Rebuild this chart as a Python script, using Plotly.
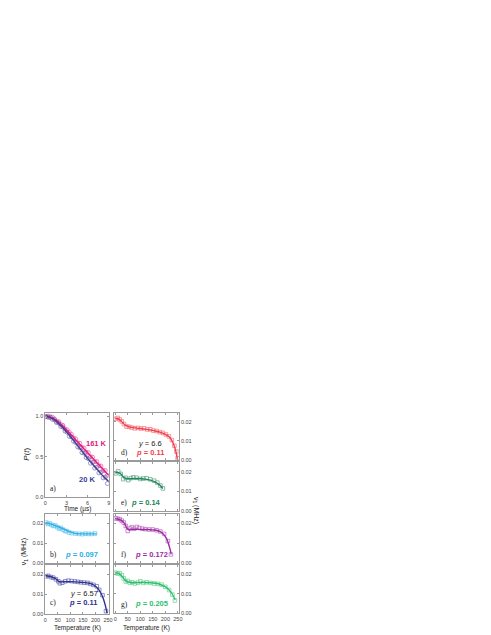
import plotly.graph_objects as go

W, H = 491, 635

# ---------------- data ----------------
# panel a: P(t)
t_fit = [0, 0.5, 1, 1.5, 2, 2.5, 3, 3.5, 4, 4.5, 5, 5.5, 6, 6.5, 7, 7.5, 8, 8.5, 9]
p161_fit = [1.0, 0.993, 0.975, 0.95, 0.915, 0.875, 0.83, 0.785, 0.738, 0.69, 0.643,
            0.596, 0.55, 0.503, 0.456, 0.41, 0.363, 0.316, 0.27]
p20_fit = [1.0, 0.99, 0.97, 0.94, 0.9, 0.855, 0.805, 0.755, 0.70, 0.645, 0.59,
           0.535, 0.48, 0.43, 0.38, 0.33, 0.28, 0.235, 0.195]
t_pts = [0.1, 0.4, 0.7, 1.0, 1.3, 1.6, 1.9, 2.2, 2.5, 2.8, 3.1, 3.4, 3.7, 4.0, 4.3,
         4.6, 4.9, 5.2, 5.5, 5.8, 6.1, 6.4, 6.7, 7.0, 7.3, 7.6, 7.9, 8.2, 8.5, 8.8]
p161_pts = [0.99, 1.0, 0.98, 0.985, 0.965, 0.935, 0.93, 0.895, 0.885, 0.84, 0.83, 0.80,
            0.775, 0.73, 0.72, 0.67, 0.665, 0.615, 0.605, 0.555, 0.55, 0.50, 0.495,
            0.44, 0.44, 0.39, 0.385, 0.33, 0.33, 0.27]
p20_pts = [0.995, 0.985, 0.99, 0.96, 0.955, 0.92, 0.915, 0.87, 0.865, 0.815, 0.80, 0.75,
           0.745, 0.69, 0.675, 0.62, 0.61, 0.55, 0.545, 0.49, 0.475, 0.42, 0.43, 0.36,
           0.37, 0.30, 0.31, 0.24, 0.25, 0.17]

# panel b
b_T_fit = [0, 20, 40, 60, 80, 100, 120, 140, 160, 180, 205]
b_fit = [0.0205, 0.0198, 0.019, 0.018, 0.0168, 0.0157, 0.015, 0.0148, 0.0148, 0.0148, 0.0148]
b_T = [3, 10, 18, 25, 33, 40, 48, 55, 62, 70, 78, 85, 95, 105, 120, 135, 148, 160, 172, 185, 198]
b_v = [0.0205, 0.0198, 0.02, 0.0193, 0.0188, 0.019, 0.0182, 0.0175, 0.0178, 0.017, 0.0163,
       0.0162, 0.0155, 0.0152, 0.015, 0.0148, 0.0147, 0.0149, 0.0148, 0.0148, 0.015]

# panel c
c_T_fit = [0, 15, 30, 45, 55, 65, 80, 100, 120, 140, 160, 180, 195, 210, 222, 232, 240, 246]
c_fit = [0.0194, 0.019, 0.0185, 0.0175, 0.0163, 0.0162, 0.0163, 0.0163, 0.0162, 0.016,
         0.0158, 0.0153, 0.0145, 0.0128, 0.0105, 0.0075, 0.004, 0.0005]
c_T = [3, 12, 22, 32, 42, 52, 58, 68, 80, 92, 105, 118, 130, 142, 155, 168, 180, 192, 205, 215, 228, 242]
c_v = [0.019, 0.0192, 0.0186, 0.0183, 0.0175, 0.0165, 0.0155, 0.0158, 0.0165, 0.0168, 0.0166,
       0.0164, 0.0162, 0.016, 0.0158, 0.0157, 0.0152, 0.0147, 0.014, 0.0122, 0.0095, 0.0015]

# panel d
d_T_fit = [0, 10, 20, 30, 40, 50, 60, 80, 100, 120, 140, 160, 180, 200, 215, 225, 235, 242, 248]
d_fit = [0.0218, 0.0216, 0.0208, 0.0195, 0.0182, 0.0176, 0.0172, 0.0168, 0.0165, 0.0162,
         0.0158, 0.0152, 0.0145, 0.0135, 0.0122, 0.0105, 0.0075, 0.0045, 0.0005]
d_T = [2, 10, 18, 26, 35, 45, 55, 65, 78, 90, 102, 115, 128, 140, 152, 165, 178, 190,
       202, 214, 226, 236, 244, 249]
d_v = [0.0215, 0.022, 0.0212, 0.0202, 0.0188, 0.0175, 0.0174, 0.017, 0.0166, 0.0168, 0.0165,
       0.0166, 0.016, 0.0161, 0.0154, 0.0152, 0.0146, 0.0142, 0.0134, 0.0124, 0.0105, 0.0075,
       0.0045, 0.001]

# panel e
e_T_fit = [0, 10, 20, 30, 40, 50, 60, 80, 100, 120, 140, 160, 175, 190]
e_fit = [0.0195, 0.0198, 0.0192, 0.0178, 0.0168, 0.0165, 0.0165, 0.0166, 0.0165, 0.0163,
         0.0158, 0.0148, 0.0135, 0.0115]
e_T = [3, 12, 22, 32, 42, 52, 62, 72, 85, 100, 112, 125, 140, 155, 168, 180, 190]
e_v = [0.0193, 0.0203, 0.019, 0.0163, 0.017, 0.0158, 0.0168, 0.0172, 0.017, 0.0164, 0.0166,
       0.0168, 0.0162, 0.0155, 0.0145, 0.013, 0.0115]

# panel f
f_T_fit = [0, 10, 20, 30, 40, 47, 55, 70, 90, 110, 130, 150, 170, 185, 198, 208, 215, 220, 223]
f_fit = [0.0225, 0.0223, 0.0218, 0.021, 0.0195, 0.0175, 0.017, 0.0171, 0.0171, 0.017, 0.017,
         0.0168, 0.0164, 0.0155, 0.0138, 0.0115, 0.0088, 0.0065, 0.0045]
f_T = [2, 10, 18, 26, 34, 42, 50, 58, 66, 76, 86, 96, 108, 120, 135, 150, 165, 180, 195, 210, 222]
f_v = [0.0226, 0.0224, 0.0222, 0.0215, 0.0205, 0.0188, 0.0163, 0.0175, 0.0182, 0.0174, 0.0183,
       0.0178, 0.0174, 0.0172, 0.017, 0.017, 0.0166, 0.016, 0.0148, 0.0112, 0.0045]

# panel g
g_T_fit = [0, 10, 20, 30, 40, 50, 60, 80, 100, 120, 140, 160, 180, 195, 210, 222, 232, 239]
g_fit = [0.0207, 0.0205, 0.0198, 0.0185, 0.0168, 0.016, 0.0157, 0.0156, 0.0157, 0.0157,
         0.0156, 0.0153, 0.0147, 0.0138, 0.0125, 0.0108, 0.0088, 0.0068]
g_T = [2, 10, 18, 26, 34, 42, 50, 58, 68, 78, 90, 100, 112, 125, 140, 155, 170, 185, 200, 215, 228, 238]
g_v = [0.0207, 0.0203, 0.0205, 0.0195, 0.0178, 0.0162, 0.0165, 0.0155, 0.0158, 0.0152, 0.0156,
       0.0163, 0.0155, 0.0158, 0.0155, 0.0152, 0.015, 0.0146, 0.0135, 0.0118, 0.0095, 0.0065]

time_ticks = [0, 3, 6, 9]
temp_ticks = [0, 50, 100, 150, 200, 250]
p_ticks = [0.0, 0.5, 1.0]
nu_ticks = [0.0, 0.01, 0.02]

C161, C20 = "#e4197f", "#3d3d96"
CB, CC, CD, CE, CF, CG = "#2aaee6", "#2e3192", "#ef3f4d", "#23855a", "#9c2ba3", "#2fbf6c"

# ---------------- layout helpers ----------------
def xd(p0, p1):
    return [p0 / W, p1 / W]

def yd(p0, p1):  # p0 top px, p1 bottom px
    return [1 - p1 / H, 1 - p0 / H]

fig = go.Figure()

AX = dict(showline=True, linecolor="#9a9a9a", linewidth=0.8, mirror="ticks", ticks="inside",
          ticklen=2, tickwidth=0.6, tickcolor="#9a9a9a", showgrid=False, zeroline=False,
          tickfont=dict(family="Liberation Sans", size=5.5, color="#444"))

panels = {
    # name: (xdomain px, ydomain px, xrange, yrange, x kind, side, xlabels)
    "a": ((35.7, 100), (406.7, 491.7), [0, 9], [0, 1.04], "time", "left", True),
    "b": ((35.7, 100), (508, 558), [0, 253], [0, 0.025], "temp", "left", False),
    "c": ((35.7, 100), (560, 609), [0, 253], [0, 0.0245], "temp", "left", True),
    "d": ((105, 171), (406.7, 454.3), [-6, 254], [0, 0.0247], "temp", "right", False),
    "e": ((105, 171), (456.5, 505), [-6, 254], [0, 0.025], "temp", "right", False),
    "f": ((105, 171), (508, 558), [-6, 254], [0, 0.025], "temp", "right", False),
    "g": ((105, 171), (560, 608), [-6, 254], [0, 0.0245], "temp", "right", True),
}
order = ["a", "b", "c", "d", "e", "f", "g"]
axname = {}
for i, k in enumerate(order):
    n = "" if i == 0 else str(i + 1)
    axname[k] = ("x" + n, "y" + n)
    (x0, x1), (y0, y1), xr, yr, kind, side, xl = panels[k]
    xa = dict(AX, domain=xd(x0, x1), range=xr, anchor="y" + n, showticklabels=xl,
              tickvals=time_ticks if kind == "time" else temp_ticks)
    ya = dict(AX, domain=yd(y0, y1), range=yr, anchor="x" + n, side=side,
              tickvals=p_ticks if kind == "time" else nu_ticks,
              tickformat=".1f" if kind == "time" else ".2f")
    fig.layout["xaxis" + n] = xa
    fig.layout["yaxis" + n] = ya


def add(k, x, y, color, mode, symbol="square-open", size=3.6, width=1.4):
    xa, ya = axname[k]
    if mode == "lines":
        fig.add_trace(go.Scatter(x=x, y=y, mode="lines", xaxis=xa, yaxis=ya,
                                 line=dict(color=color, width=width, shape="spline"),
                                 showlegend=False, hoverinfo="skip"))
    else:
        fig.add_trace(go.Scatter(x=x, y=y, mode="markers", xaxis=xa, yaxis=ya,
                                 marker=dict(symbol=symbol, size=size, color=color,
                                             line=dict(width=0.7, color=color)),
                                 opacity=0.75, showlegend=False, hoverinfo="skip"))


add("a", t_pts, p161_pts, C161, "markers", "circle-open", 4)
add("a", t_pts, p20_pts, C20, "markers", "circle-open", 4)
add("a", t_fit, p161_fit, C161, "lines")
add("a", t_fit, p20_fit, C20, "lines")
for k, T, v, Tf, vf, c in [("b", b_T, b_v, b_T_fit, b_fit, CB),
                           ("c", c_T, c_v, c_T_fit, c_fit, CC),
                           ("d", d_T, d_v, d_T_fit, d_fit, CD),
                           ("e", e_T, e_v, e_T_fit, e_fit, CE),
                           ("f", f_T, f_v, f_T_fit, f_fit, CF),
                           ("g", g_T, g_v, g_T_fit, g_fit, CG)]:
    add(k, T, v, c, "markers")
    add(k, Tf, vf, c, "lines")

# ---------------- annotations ----------------
ann = []

def txt(s, px, py, size=7, color="#222", family="Liberation Sans", angle=0, xanchor="center"):
    ann.append(dict(text=s, x=px / W, y=1 - py / H, xref="paper", yref="paper",
                    showarrow=False, xanchor=xanchor, yanchor="middle", textangle=angle,
                    font=dict(size=size, color=color, family=family)))

txt("Time (µs)", 68, 503, 6.5)
txt("Temperature (K)", 68, 623, 6.5)
txt("Temperature (K)", 138, 623, 6.5)
txt("<i>P</i>(<i>t</i>)", 17, 448, 8, angle=-90)
txt("ν<sub>1</sub> (MHz)", 15, 546, 7, angle=-90)
txt("ν<sub>1</sub> (MHz)", 189, 505, 7, angle=90)

serif = "Liberation Serif"
txt("a)", 38, 483, 7.5, family=serif, xanchor="left")
txt("b)", 38, 549, 7.5, family=serif, xanchor="left")
txt("c)", 38, 597, 7.5, family=serif, xanchor="left")
txt("d)", 110, 447, 7.5, family=serif, xanchor="left")
txt("e)", 110, 497, 7.5, family=serif, xanchor="left")
txt("f)", 110, 549, 7.5, family=serif, xanchor="left")
txt("g)", 110, 599, 7.5, family=serif, xanchor="left")

txt("<b>161 K</b>", 88, 438, 7.5, C161)
txt("<b>20 K</b>", 78, 474, 7.5, C20)
txt("<b><i>p</i> = 0.097</b>", 72, 549, 7.5, CB)
txt("<i>y</i> = 6.57", 75, 588, 7.5, "#222")
txt("<b><i>p</i> = 0.11</b>", 74, 597, 7.5, CC)
txt("<i>y</i> = 6.6", 142, 438, 7.5, "#222")
txt("<b><i>p</i> = 0.11</b>", 142, 447, 7.5, CD)
txt("<b><i>p</i> = 0.14</b>", 138, 497, 7.5, CE)
txt("<b><i>p</i> = 0.172</b>", 143, 549, 7.5, CF)
txt("<b><i>p</i> = 0.205</b>", 143, 598, 7.5, CG)

fig.update_layout(width=W, height=H, margin=dict(l=0, r=0, t=0, b=0),
                  paper_bgcolor="white", plot_bgcolor="white", annotations=ann,
                  showlegend=False)

fig.write_html("out.html")
